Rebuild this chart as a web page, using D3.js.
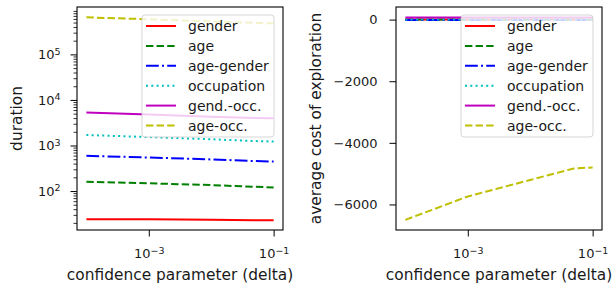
<!DOCTYPE html>
<html>
<head>
<meta charset="utf-8">
<script src="https://cdn.jsdelivr.net/npm/d3@7"></script>
<style>
body { margin: 0; background: #fff; }
text { font-family: "DejaVu Sans", sans-serif; fill: #1a1a1a; }
.domain { stroke: none; }
.tick line { stroke: #000; }
</style>
</head>
<body>
<div id="chart"></div>
<script>
var deltas = [1e-4, 1e-3, 1e-2, 5e-2, 1e-1];
var names = ["gender", "age", "age-gender", "occupation", "gend.-occ.", "age-occ."];

// duration (log scale)
var durGender = [24, 24, 23.5, 23, 23];
var durAge = [160, 148, 135, 124, 120];
var durAgeGender = [594, 545, 495, 455, 445];
var durOccupation = [1700, 1530, 1370, 1250, 1220];
var durGendOcc = [5270, 4800, 4300, 4000, 3950];
var durAgeOcc = [650000, 590000, 530000, 490000, 480000];

// average cost of exploration
var costGender = [0, 0, 0, 0, 0];
var costAge = [0, 0, 0, 0, 0];
var costAgeGender = [-10, -10, -10, -10, -10];
var costOccupation = [0, 0, 0, 0, 0];
var costGendOcc = [65, 65, 65, 65, 65];
var costAgeOcc = [-6500, -5740, -5205, -4830, -4800];

var xTicks = [1e-3, 1e-1];
var durTicks = [1e2, 1e3, 1e4, 1e5];
var costTicks = [0, -2000, -4000, -6000];

var colors = ["#ff0000", "#008000", "#0000ff", "#00bfbf", "#bf00bf", "#bfbf00"];
var dashes = ["none", "7.4,3.2", "12.8,3.2,2,3.2", "2,3.3", "none", "7.4,3.2"];

var W = 613, H = 288;
var top_ = 7, bottom_ = 230;
var tickFS = "13px", labelFS = "15.4px", legendFS = "14px";

var svg = d3.select("#chart").append("svg")
    .attr("width", W)
    .attr("height", H);

function supLabel(sel) {
  sel.selectAll(".tick text").each(function(d) {
    var t = d3.select(this);
    t.text("10");
    t.append("tspan")
      .attr("dy", "-0.45em")
      .style("font-size", "9.5px")
      .text(String(Math.round(Math.log10(d))).replace("-", "\u2212"));
  });
}

function panel(x0, x1, yScale, series, ylabel, isLog) {
  var xScale = d3.scaleLog()
      .domain([Math.pow(10, -4 - 0.15), Math.pow(10, -1 + 0.15)])
      .range([x0, x1]);

  var g = svg.append("g");

  var line = d3.line()
      .x(function(d, i) { return xScale(deltas[i]); })
      .y(function(d) { return yScale(d); });

  g.selectAll("path.series")
    .data(series).enter()
    .append("path")
    .attr("class", "series")
    .attr("d", line)
    .attr("fill", "none")
    .attr("stroke", function(d, i) { return colors[i]; })
    .attr("stroke-width", 2)
    .attr("stroke-dasharray", function(d, i) { return dashes[i]; });

  // x axis
  var xa = g.append("g")
      .attr("transform", "translate(0," + bottom_ + ")")
      .call(d3.axisBottom(xScale).tickValues(xTicks).tickSize(6.5))
      .style("font-size", tickFS);
  supLabel(xa);
  xa.selectAll(".tick text").attr("y", 28).attr("dy", 0);

  // y axis
  var ya = g.append("g")
      .attr("transform", "translate(" + x0 + ",0)");
  if (isLog) {
    var minor = [];
    for (var e = 1; e <= 6; e++) {
      for (var m = 2; m <= 9; m++) {
        var v = m * Math.pow(10, e);
        var py = yScale(v);
        if (py >= top_ && py <= bottom_) minor.push(v);
      }
    }
    ya.append("g").call(d3.axisLeft(yScale).tickValues(minor).tickSize(3.5).tickFormat(""))
      .selectAll(".tick line").attr("stroke-width", 0.8);
    ya.append("g").call(d3.axisLeft(yScale).tickValues(durTicks).tickSize(6.5).tickPadding(10))
      .style("font-size", tickFS)
      .call(supLabel);
  } else {
    ya.call(d3.axisLeft(yScale).tickValues(costTicks).tickSize(6.5).tickPadding(12)
      .tickFormat(function(d) { return String(d).replace("-", "\u2212"); }))
      .style("font-size", tickFS);
  }

  // frame
  g.append("rect")
    .attr("x", x0).attr("y", top_)
    .attr("width", x1 - x0).attr("height", bottom_ - top_)
    .attr("fill", "none").attr("stroke", "#000").attr("stroke-width", 1.1);

  // labels
  g.append("text")
    .attr("x", (x0 + x1) / 2).attr("y", 279.5)
    .attr("text-anchor", "middle")
    .style("font-size", labelFS)
    .text("confidence parameter (delta)");

  g.append("text")
    .attr("transform", "translate(" + (x0 - (isLog ? 55 : 75)) + "," + ((top_ + bottom_) / 2) + ") rotate(-90)")
    .attr("text-anchor", "middle")
    .style("font-size", labelFS)
    .text(ylabel);

  // legend
  var lx = x1 - 141, ly = 15;
  var lg = g.append("g");
  lg.append("rect")
    .attr("x", lx).attr("y", ly).attr("width", 132).attr("height", 122)
    .attr("rx", 3)
    .attr("fill", "#fff").attr("fill-opacity", 0.8)
    .attr("stroke", "#ccc").attr("stroke-opacity", 0.8);
  names.forEach(function(n, i) {
    var yy = ly + 11 + i * 19.9;
    lg.append("line")
      .attr("x1", lx + 4).attr("x2", lx + 34)
      .attr("y1", yy).attr("y2", yy)
      .attr("stroke", colors[i]).attr("stroke-width", 2)
      .attr("stroke-dasharray", dashes[i]);
    lg.append("text")
      .attr("x", lx + 46).attr("y", yy + 5)
      .style("font-size", legendFS)
      .text(n);
  });
}

var durY = d3.scaleLog()
    .domain([Math.pow(10, 1.145), Math.pow(10, 6.04)])
    .range([bottom_, top_]);
panel(77, 283, durY,
  [durGender, durAge, durAgeGender, durOccupation, durGendOcc, durAgeOcc],
  "duration", true);

var costY = d3.scaleLinear()
    .domain([-6829, 409])
    .range([bottom_, top_]);
panel(396, 602, costY,
  [costGender, costAge, costAgeGender, costOccupation, costGendOcc, costAgeOcc],
  "average cost of exploration", false);
</script>
</body>
</html>
